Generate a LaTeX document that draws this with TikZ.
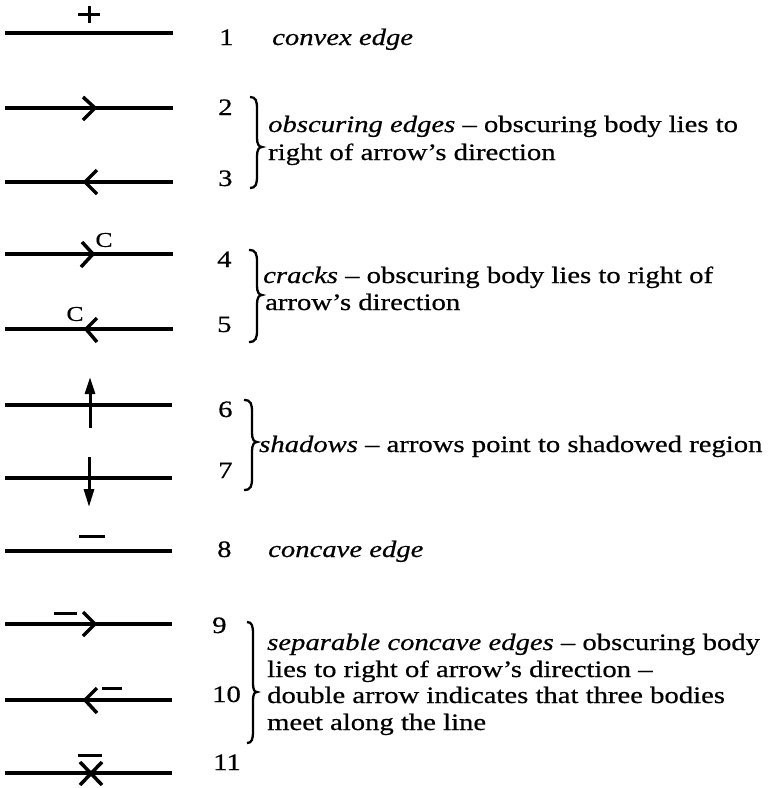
\documentclass[tikz,border=0pt]{standalone}
\usepackage{fontspec}
\setmainfont{Liberation Serif}[FakeStretch=1.22,FakeBold=0.6]
\usetikzlibrary{arrows.meta}
\newcommand{\mybrace}[6]{% x0 x1 xtip ytop ymid ybot
  \draw[bracestyle] (#1,#4) .. controls ({#2-1},{#4}) and ({#2},{#4+4}) .. ({#2},{#4+12})
    -- ({#2},{#5-9}) .. controls ({#2},{#5-3}) and ({#3-3},{#5}) .. ({#3},{#5})
    .. controls ({#3-3},{#5}) and ({#2},{#5+3}) .. ({#2},{#5+9})
    -- ({#2},{#6-12}) .. controls ({#2},{#6-4}) and ({#2-1},{#6}) .. (#1,#6);}
\begin{document}
\begin{tikzpicture}[x=1pt,y=-1pt,
  edgeline/.style={line width=3.8pt},
  chev/.style={line width=3.5pt,line join=miter},
  marksym/.style={line width=3pt},
  bracestyle/.style={line width=2.3pt},
  txt/.style={anchor=base west,inner sep=0pt,font=\fontsize{23.5pt}{28pt}\selectfont},
  clabel/.style={inner sep=0pt,font=\fontsize{21pt}{24pt}\selectfont}]
\useasboundingbox (0,0) rectangle (773,788);
% 1 convex
\draw[edgeline] (5,33) -- (173,33);
\draw[marksym] (78,14) -- (100,14) (89,6) -- (89,23);
% 2
\draw[edgeline] (5,108) -- (173,108);
\draw[chev] (83,97) -- (95,108) -- (83,120);
% 3
\draw[edgeline] (5,182) -- (173,182);
\draw[chev] (97,170) -- (85,182) -- (97,194);
% 4
\draw[edgeline] (5,254) -- (173,254);
\draw[chev] (82,242) -- (93,254) -- (81,267);
\node[clabel] (c4) at (104,240) {C};
% 5
\draw[edgeline] (5,329) -- (173,329);
\draw[chev] (97,318) -- (86,329) -- (97,342);
\node[clabel] (c5) at (75,314) {C};
% 6
\draw[edgeline] (5,405) -- (172,405);
\draw[line width=3pt,-{Triangle[length=17pt,width=10pt]}] (90,428) -- (90,377);
% 7
\draw[edgeline] (5,478) -- (172,478);
\draw[line width=3pt,-{Triangle[length=18pt,width=10pt]}] (89,457) -- (89,507);
% 8
\draw[edgeline] (5,551) -- (172,551);
\draw[marksym] (79,536) -- (105,536);
% 9
\draw[edgeline] (5,624) -- (172,624);
\draw[chev] (83,612) -- (95,624) -- (83,636);
\draw[marksym] (54,613) -- (77,613);
% 10
\draw[edgeline] (5,700) -- (172,700);
\draw[chev] (97,688) -- (85,700) -- (97,713);
\draw[marksym] (102,688) -- (122,688);
% 11
\draw[edgeline] (5,773) -- (172,773);
\draw[chev] (80,762) -- (102,785) (102,762) -- (80,785);
\draw[marksym] (78,755) -- (102,755);
% numbers
\node[txt] (n1) at (219,45) {1};
\node[txt] (n2) at (218,115) {2};
\node[txt] (n3) at (218,186) {3};
\node[txt] (n4) at (217,267) {4};
\node[txt] (n5) at (217,332) {5};
\node[txt] (n6) at (218,417) {6};
\node[txt] (n7) at (218,478) {7};
\node[txt] (n8) at (217,557) {8};
\node[txt] (n9) at (212,633) {9};
\node[txt] (n10) at (212,702) {10};
\node[txt] (n11) at (213,770) {11};
% braces
\mybrace{250}{257}{262}{97}{147}{188}
\mybrace{249}{257}{262}{250}{295}{342}
\mybrace{244}{252}{257}{400}{442}{490}
\mybrace{247}{253}{257}{622}{692}{743}
% texts
\node[txt] (t1) at (272,45) {\textit{convex edge}};
\node[txt] (t2a) at (268,132) {\textit{obscuring edges} – obscuring body lies to};
\node[txt] (t2b) at (268,160) {right of arrow’s direction};
\node[txt] (t4a) at (263,283) {\textit{cracks} – obscuring body lies to right of};
\node[txt] (t4b) at (265,310) {arrow’s direction};
\node[txt] (t6) at (259,452) {\textit{shadows} – arrows point to shadowed region};
\node[txt] (t8) at (268,557) {\textit{concave edge}};
\node[txt] (t9a) at (267,650) {\textit{separable concave edges} – obscuring body};
\node[txt] (t9b) at (267,677) {lies to right of arrow’s direction –};
\node[txt] (t9c) at (267,703) {double arrow indicates that three bodies};
\node[txt] (t9d) at (267,730) {meet along the line};
\end{tikzpicture}
\end{document}
